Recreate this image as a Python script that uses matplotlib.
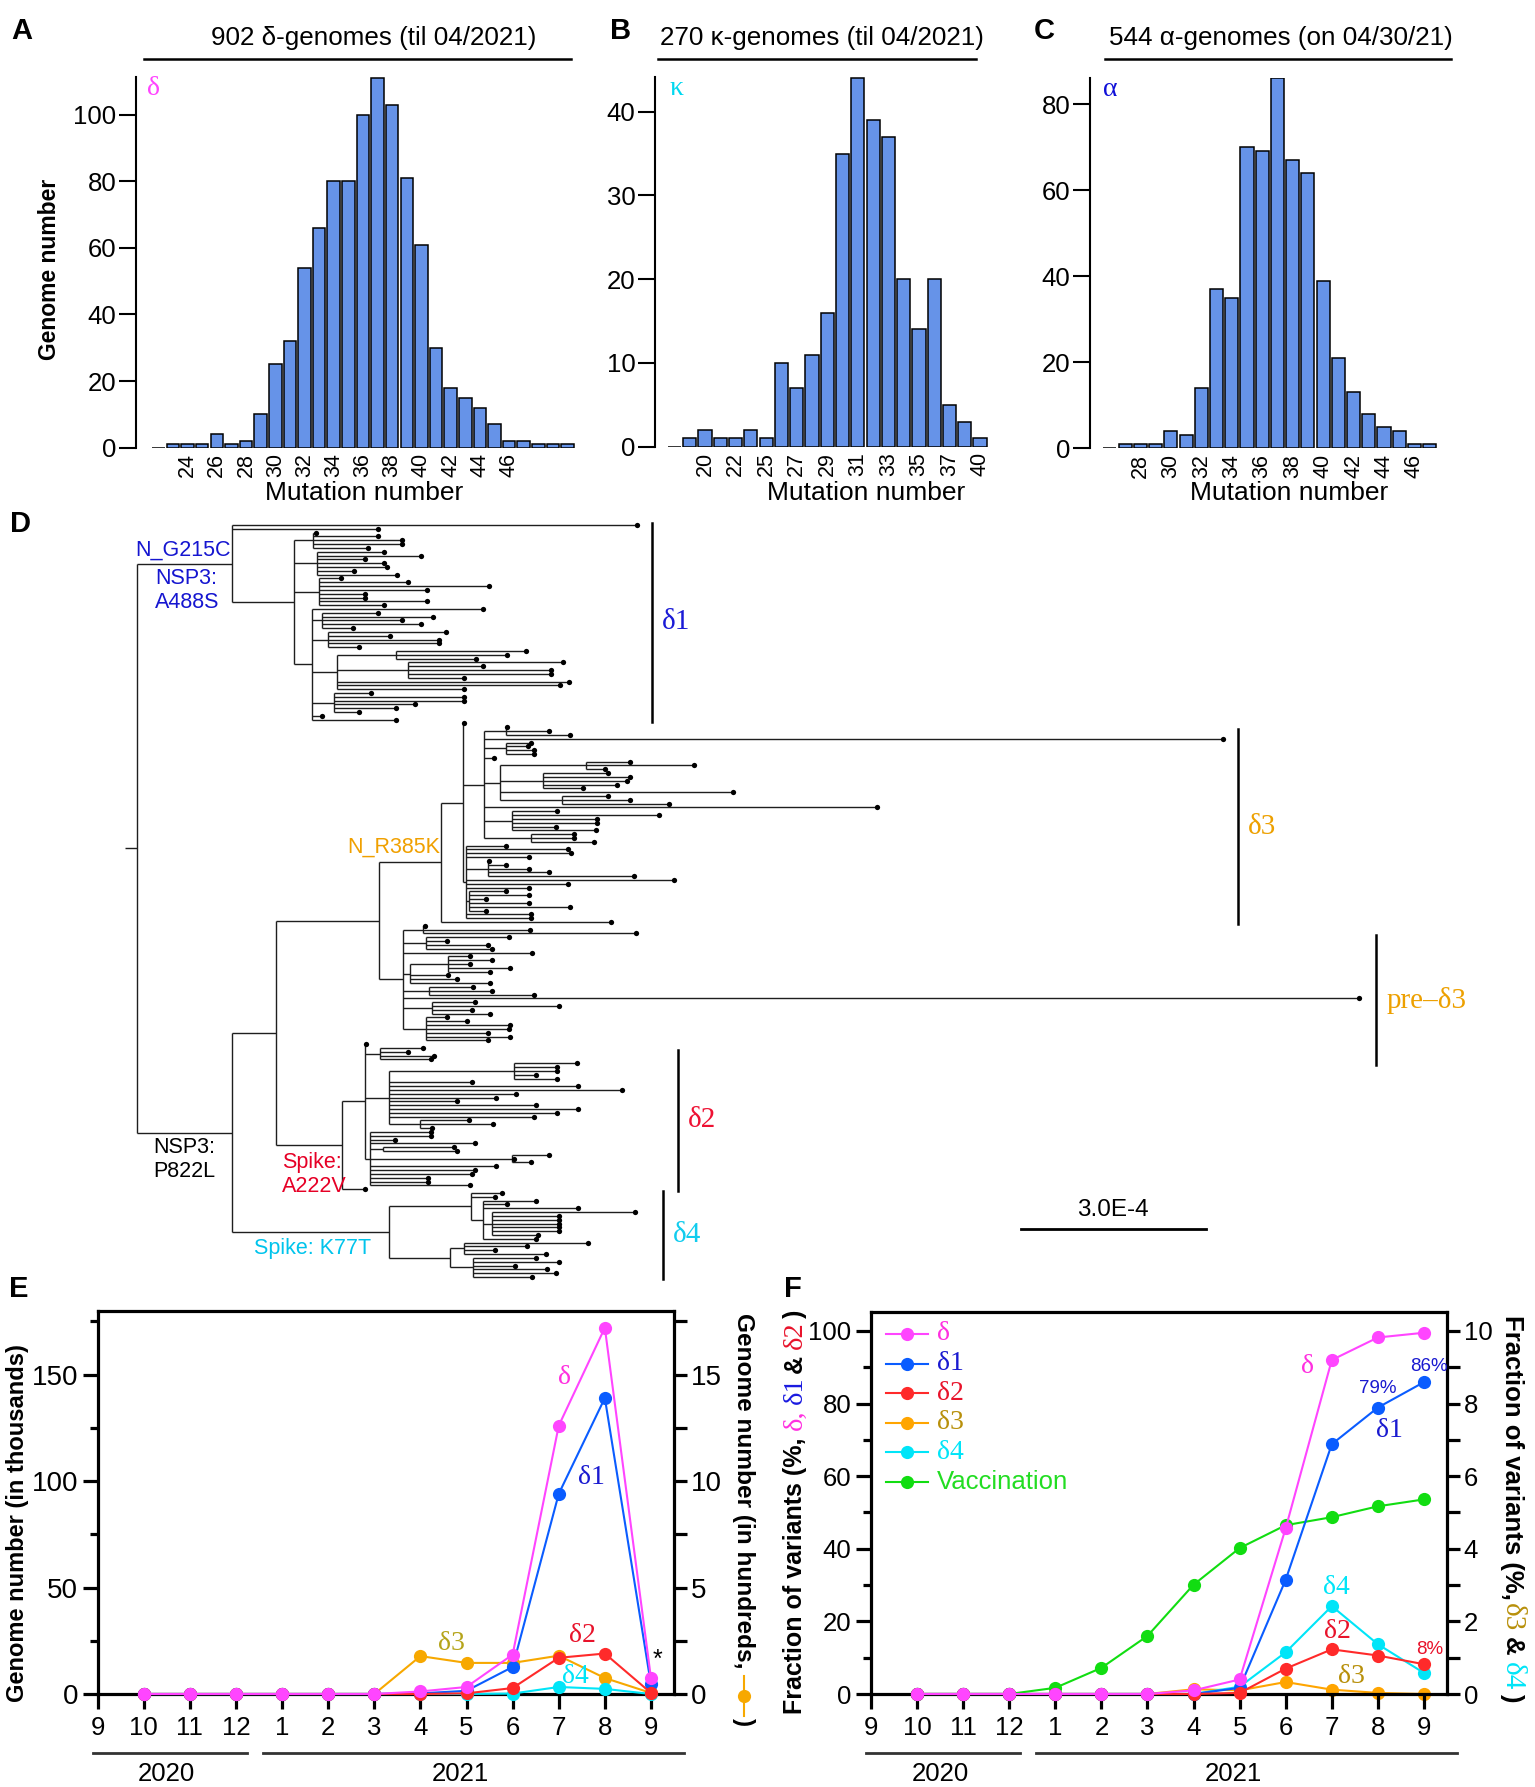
import numpy as np
import matplotlib
matplotlib.use("Agg")
import matplotlib.pyplot as plt
import matplotlib.transforms as mtransforms
from matplotlib.collections import LineCollection
from matplotlib.lines import Line2D

plt.rcParams["font.family"] = ["Liberation Sans", "DejaVu Sans"]
SERIF = ["Liberation Serif", "DejaVu Serif"]
SANS = ["Liberation Sans", "DejaVu Sans"]

# ---------------- data ----------------
# A-C: mutation number histograms
A_MUT = list(range(22, 51))
A_COUNT = [0, 1, 1, 1, 4, 1, 2, 10, 25, 32, 54, 66, 80, 80, 100, 111, 103, 81, 61,
           30, 18, 15, 12, 7, 2, 2, 1, 1, 1]
A_LABELED = list(range(24, 47, 2))

B_MUT = [18, 19, 20, 21, 22, 24, 25, 26, 27, 28, 29, 30, 31, 32, 33, 34, 35, 36, 37, 38, 40]
B_COUNT = [0, 1, 2, 1, 1, 2, 1, 10, 7, 11, 16, 35, 44, 39, 37, 20, 14, 20, 5, 3, 1]
B_LABELED = [20, 22, 25, 27, 29, 31, 33, 35, 37, 40]

C_MUT = list(range(26, 48))
C_COUNT = [0, 1, 1, 1, 4, 3, 14, 37, 35, 70, 69, 86, 67, 64, 39, 21, 13, 8, 5, 4, 1, 1]
C_LABELED = list(range(28, 47, 2))

# D: phylogeny (branch lengths in 1e-4 substitutions/site)
D1_CLADE = ("(:6.55,:2.35,((:0.05,:1.05,:1.45,:1.45,:0.9):0.3,(:1.08,:1.68,:0.78,:1.08,:1.13,:0.6,:1.3):0.37,"
            "(:0.35,:1.45,:2.75,:1.75,:0.75,:0.75,:1.75,:1.05):0.4,"
            "(:2.76,(:0.9,:1.8,:1.3,:1.6,:0.5):0.16,(:1.9,:1.0,:1.8,:1.8,:0.5):0.26,"
            "((:2.1,:1.8,:1.3):0.95,(:2.5,:1.2,:2.3,:2.3,:0.9):1.15,:3.75,:3.6,:2.05):0.41,"
            "(:0.6,:2.1,:2.1,:1.3,:1.0,:0.4):0.36,:0.16,:1.36):0.29):1.0)G215C:1.55")
D3_CLADE = ("((:0.02,((:0.02,:0.7,:1.04):0.35,:11.95,(:0.4,:0.35,:0.45,:0.45):0.35,:0.15,"
            "((:0.7,:1.75,:0.3):1.4,(:1.05,:1.4,:1.35,:1.2,:0.65):0.7,:3.77,(:0.75,:1.1,:1.73):1.0):0.25,"
            ":6.35,(:0.72,:2.37,:1.37,:1.37,:0.7,:1.35):0.45,(:0.7,:0.7,:1.02):0.75):0.35,"
            "(:0.65,:1.65,:1.7,:1.02,(:0.02,:0.3,:0.67,:1.0,:2.37):0.35,:3.37,:1.65,:1.02,"
            "(:0.6,:0.97,:0.28,:0.97,:1.64,:0.28):0.05,:1.05,:1.05):0.05):0.35,:2.75)R385K:1.0")
PRE_CLADE = ("((:0.02,:1.73,:3.44):0.33,(:1.34,:0.35,:1.0,:1.07):0.37,:2.09,"
             "((:0.36,:0.71,:0.36,:1.01,:0.68):0.61,:0.61,:0.75,:1.29):0.12,(:0.72,:1.02,:1.7):0.42,"
             ":15.47,(:0.7,:2.05,:0.65,:0.94):0.47,(:0.35,:0.66,:1.37,:1.34,:1.01,:1.37,:1.0):0.37)PRE:0.38")
D2_CLADE = ("((:0.02,(:0.69,:0.46,:0.88,:0.83):0.25,((:1.03,:0.7,:0.7,:0.37,:0.7):2.02,:1.35,:3.07,:3.78,"
            ":2.06,:1.73,:1.1,:2.39,:3.07,:2.72,:2.35,(:0.8,:1.19,:0.2):0.5):0.39,"
            "(:0.99,:0.99,:0.4,:1.69,(:1.16,:1.2):0.2,(:0.6,:0.02,:0.3):2.3,:2.03,:1.69,:1.65,:0.93,"
            ":0.93,:1.61):0.09):0.36,:0.36)A222V:1.07")
D4_CLADE = ("((:0.5,:0.39,(:0.87,:0.39,:1.54,(:2.32,:1.09,:1.09,:1.09,:1.09,:1.09,:0.75):0.15,"
            ":0.87):0.19):1.33,((:2.0,:1.02,:0.5,:1.32):0.22,(:1.02,:1.39,:0.67,:1.2,:1.33,:0.95):0.37):1.0)K77T:2.54")
TREE = ("(" + D1_CLADE + ",(((" + D3_CLADE + "," + PRE_CLADE + ")Y:1.67," + D2_CLADE + ")X:0.72,"
        + D4_CLADE + ")P822L:1.54)root;")

# E: genome numbers per month (10/2020 .. 9/2021)
MONTH_TICKS = ["9", "10", "11", "12", "1", "2", "3", "4", "5", "6", "7", "8", "9"]
E_DELTA = [0, 0, 0, 0, 0, 0, 1.2, 3.3, 18.5, 126, 172, 7.5]      # thousands
E_D1 = [0, 0, 0, 0, 0, 0, 0.3, 1.5, 12.7, 94, 139, 4.5]
E_D2 = [0, 0, 0, 0, 0, 0, 0, 0.3, 2.8, 17, 19, 0.5]
E_D4 = [0, 0, 0, 0, 0, 0, 0, 0, 0.2, 3.3, 2.4, 0]
E_D3 = [0, 0, 0, 0, 0, 0, 1.78, 1.46, 1.46, 1.8, 0.75, 0.05]     # hundreds

# F: fraction of variants (%) and vaccination
F_DELTA = [0, 0, 0, 0, 0, 0, 1.0, 4.0, 45.7, 92, 98.2, 99.5]
F_D1 = [0, 0, 0, 0, 0, 0, 0, 1.7, 31.5, 68.8, 78.9, 85.9]
F_D2 = [0, 0, 0, 0, 0, 0, 0, 0.3, 7.0, 12.3, 10.6, 8.2]
F_VAC = [0, 0, 0, 1.7, 7.2, 16.0, 30.1, 40.2, 46.5, 48.7, 51.7, 53.6]
F_D3 = [0, 0, 0, 0, 0, 0, 0.13, 0.1, 0.33, 0.12, 0.03, 0.0]       # right axis
F_D4 = [0, 0, 0, 0, 0, 0, 0, 0.2, 1.15, 2.42, 1.37, 0.58]         # right axis

# colours
BAR_BLUE = "#6693e8"
MAGENTA = "#ff45ff"
BLUE = "#0a5cff"
RED = "#ff2a2a"
ORANGE = "#f7a800"
CYAN = "#00e5f8"
GREEN = "#11dd11"
DKBLUE = "#1a1ad0"
TXTRED = "#e8132b"
GOLD = "#b8900b"

W, H = 1535, 1787
fig = plt.figure(figsize=(W / 100, H / 100), dpi=100)


def box(left, top, right, bottom):
    return [left / W, 1 - bottom / H, (right - left) / W, (bottom - top) / H]


def fx(x):
    return x / W


def fy(y):
    return 1 - y / H


# ---------------- A-C histograms ----------------
def histogram(rect, cats, counts, labeled, xlim, ylim, yticks, greek, gcolor, gx):
    ax = fig.add_axes(rect)
    pos = np.arange(len(cats))
    ax.bar(pos, counts, width=0.86, color=BAR_BLUE, edgecolor="black", linewidth=1.1)
    ax.set_xlim(*xlim)
    ax.set_ylim(*ylim)
    for s in ["top", "right", "bottom"]:
        ax.spines[s].set_visible(False)
    ax.spines["left"].set_linewidth(1.5)
    ax.set_yticks(yticks)
    ax.tick_params(axis="y", length=12, width=1.5, labelsize=18.5, pad=2)
    ax.set_xticks([cats.index(c) for c in labeled])
    ax.set_xticklabels([str(c) for c in labeled], rotation=90, fontsize=15.5)
    ax.tick_params(axis="x", length=0, pad=4)
    ax.text(gx, 0.97, greek, transform=ax.transAxes, color=gcolor, fontsize=20,
            family=SERIF, ha="center", va="center")
    return ax


histogram(box(136, 77.3, 575, 447.7), A_MUT, A_COUNT, A_LABELED, (-1.53, 28.51), (0, 111.2),
          [0, 20, 40, 60, 80, 100], "δ", MAGENTA, 0.039)
histogram(box(655, 77.3, 990, 446.7), B_MUT, B_COUNT, B_LABELED, (-1.27, 20.65), (0, 44.1),
          [0, 10, 20, 30, 40], "κ", "#00d8f0", 0.063)
histogram(box(1090, 78.3, 1440, 448.3), C_MUT, C_COUNT, C_LABELED, (-1.31, 21.68), (0, 86),
          [0, 20, 40, 60, 80], "α", "#1010d8", 0.057)

for title, cx, x0, x1 in [("902 δ-genomes (til 04/2021)", 374, 144, 571),
                          ("270 κ-genomes (til 04/2021)", 822, 658, 976),
                          ("544 α-genomes (on 04/30/21)", 1281, 1105, 1451)]:
    fig.text(fx(cx), fy(38), title, ha="center", va="center", fontsize=18.7)
    fig.add_artist(Line2D([fx(x0), fx(x1)], [fy(59.3), fy(59.3)], color="black", lw=1.8))
for cx in [364, 866, 1289]:
    fig.text(fx(cx), fy(493), "Mutation number", ha="center", va="center", fontsize=19)
fig.text(fx(50), fy(269), "Genome number", rotation=90, ha="center", va="center",
         fontsize=16.5, fontweight="bold")

# ---------------- D tree ----------------
def parse_newick(text):
    text = text.replace(" ", "").rstrip(";")
    pos = 0

    def node():
        nonlocal pos
        nd = {"children": [], "name": "", "bl": 0.0}
        if text[pos] == "(":
            pos += 1
            nd["children"].append(node())
            while text[pos] == ",":
                pos += 1
                nd["children"].append(node())
            pos += 1
        start = pos
        while pos < len(text) and text[pos] not in ":,()":
            pos += 1
        nd["name"] = text[start:pos]
        if pos < len(text) and text[pos] == ":":
            pos += 1
            start = pos
            while pos < len(text) and text[pos] not in ",()":
                pos += 1
            nd["bl"] = float(text[start:pos])
        return nd

    return node()


def place(nd, x0, tips, named):
    nd["x"] = x0 + nd["bl"]
    if nd["name"]:
        named[nd["name"]] = nd
    if not nd["children"]:
        nd["y"] = len(tips)
        nd["lo"] = nd["hi"] = nd["y"]
        tips.append(nd)
    else:
        for c in nd["children"]:
            place(c, nd["x"], tips, named)
        nd["y"] = 0.5 * (nd["children"][0]["y"] + nd["children"][-1]["y"])
        nd["lo"] = nd["children"][0]["lo"]
        nd["hi"] = nd["children"][-1]["hi"]


def collect(nd, px, segs):
    if px is not None:
        segs.append([(px, nd["y"]), (nd["x"], nd["y"])])
    if nd["children"]:
        segs.append([(nd["x"], nd["children"][0]["y"]), (nd["x"], nd["children"][-1]["y"])])
        for c in nd["children"]:
            collect(c, nd["x"], segs)


root = parse_newick(TREE)
tips, named = [], {}
place(root, 0.0, tips, named)
segs = [[(-0.19, root["y"]), (0.0, root["y"])]]
collect(root, None, segs)
n = len(tips)
step = (1277 - 525) / (n - 1)

axd = fig.add_axes(box(100, 510, 1500, 1290))
axd.set_xlim(-0.594, 22.07)
axd.set_ylim(n - 1 + 13 / step, -15 / step)
axd.axis("off")
axd.add_collection(LineCollection(segs, colors="#1e1e1e", linewidths=1.0))
axd.plot([t["x"] for t in tips], [t["y"] for t in tips], "o", color="black", ms=3.8, mew=0)

# clade bars
for key, bx, lab, col, pad in [("G215C", 8.35, "δ1", "#1a1ad6", (0, 0)),
                               ("R385K", 17.83, "δ3", "#eda000", (2, 0)),
                               ("PRE", 20.07, "pre–δ3", "#eda000", (3, 6)),
                               ("A222V", 8.77, "δ2", "#ee1133", (2, 0)),
                               ("K77T", 8.52, "δ4", "#11ccee", (0, 0))]:
    nd = named[key]
    lo, hi = nd["lo"] - 0.5 + pad[0], nd["hi"] + 0.5 + pad[1]
    axd.plot([bx, bx], [lo, hi], color="black", lw=1.8)
    axd.annotate(lab, (bx, 0.5 * (lo + hi)), xytext=(7, 0), textcoords="offset points",
                 ha="left", va="center", fontsize=21, family=SERIF, color=col)

lbl = dict(fontsize=15.5, textcoords="offset points")
g = named["G215C"]
axd.annotate("N_G215C", (g["x"], g["y"]), xytext=(-1, 2), ha="right", va="bottom", color="#1515d0", **lbl)
axd.annotate("NSP3:\nA488S", (0, g["y"]), xytext=(13.5, -3), ha="left", va="top", color="#1515d0", **lbl)
r = named["R385K"]
axd.annotate("N_R385K", (r["x"], r["y"]), xytext=(-1, 3), ha="right", va="bottom", color="#f0a000", **lbl)
p = named["P822L"]
axd.annotate("NSP3:\nP822L", (0, p["y"]), xytext=(12, -3), ha="left", va="top", color="black", **lbl)
a = named["A222V"]
axd.annotate("Spike:\nA222V", (named["X"]["x"], a["y"]), xytext=(4, -5), ha="left", va="top",
             color="#e60026", **lbl)
k = named["K77T"]
axd.annotate("Spike: K77T", (p["x"], k["y"]), xytext=(16, -4), ha="left", va="top", color="#00c4ec", **lbl)

# scale bar
bt = mtransforms.blended_transform_factory(axd.transData, axd.transAxes)
yb = 1 - (1228.6 - 510) / 780
axd.plot([14.31, 17.31], [yb, yb], transform=bt, color="black", lw=2)
axd.text(15.81, yb + 0.01, "3.0E-4", transform=bt, ha="center", va="bottom", fontsize=17.5)

# ---------------- E and F ----------------
months = np.arange(1, 13)


def line_panel(rect, ylim, ylim_r, lmaj, lmin, rmaj, rmin, lsize):
    ax = fig.add_axes(rect)
    tw = ax.twinx()
    ax.set_zorder(tw.get_zorder() + 1)
    ax.patch.set_visible(False)
    ax.set_xlim(0, 12.5)
    ax.set_ylim(*ylim)
    tw.set_ylim(*ylim_r)
    for s in ax.spines.values():
        s.set_linewidth(2.3)
    for s in tw.spines.values():
        s.set_visible(False)
    ax.set_xticks(range(13))
    ax.set_xticklabels(MONTH_TICKS)
    ax.tick_params(axis="x", length=11, width=2.3, labelsize=18.5, pad=5)
    ax.set_yticks(lmaj)
    ax.set_yticks(lmin, minor=True)
    ax.tick_params(axis="y", which="major", length=11, width=2.3, labelsize=lsize, pad=3)
    ax.tick_params(axis="y", which="minor", length=6, width=2.3)
    tw.set_yticks(rmaj)
    tw.set_yticks(rmin, minor=True)
    tw.tick_params(axis="y", which="both", length=9, width=2.3, labelsize=lsize, pad=3)
    xt = ax.get_xaxis_transform()
    ax.plot([-0.1, 3.24], [-0.155, -0.155], transform=xt, clip_on=False, color="#333333", lw=2)
    ax.plot([3.59, 12.72], [-0.155, -0.155], transform=xt, clip_on=False, color="#333333", lw=2)
    ax.text(1.5, -0.21, "2020", transform=xt, ha="center", va="center", fontsize=18.5)
    ax.text(7.86, -0.21, "2021", transform=xt, ha="center", va="center", fontsize=18.5)
    return ax, tw


st = dict(marker="o", ms=9.5, lw=1.5, mew=0, clip_on=False)

# E
axe, twe = line_panel(box(97.7, 1310.7, 674, 1694), (0, 180), (0, 18),
                      [0, 50, 100, 150], [25, 75, 125, 175], [0, 5, 10, 15], [2.5, 7.5, 12.5, 17.5], 20)
twe.plot(months, E_D3, color=ORANGE, zorder=3, **st)
axe.plot(months, E_D4, color=CYAN, zorder=3, **st)
axe.plot(months, E_D1, color=BLUE, zorder=4, **st)
axe.plot(months, E_D2, color=RED, zorder=5, **st)
axe.plot(months, E_DELTA, color=MAGENTA, zorder=6, **st)
ann = dict(family=SERIF, fontsize=20, ha="center", va="center")
axe.text(10.12, 148.4, "δ", color="#ff30e0", **ann)
axe.text(10.71, 101.5, "δ1", color=DKBLUE, **ann)
axe.text(7.68, 23.8, "δ3", color="#b5a41a", **ann)
axe.text(10.52, 27.5, "δ2", color=TXTRED, **ann)
axe.text(10.37, 8.0, "δ4", color=CYAN, **ann)
axe.text(12.14, 16.2, "*", color="black", fontsize=18, ha="center", va="center")

# F
axf, twf = line_panel(box(871, 1311.7, 1447, 1694), (0, 105.3), (0, 10.53),
                      [0, 20, 40, 60, 80, 100], [10, 30, 50, 70, 90], [0, 2, 4, 6, 8, 10],
                      [1, 3, 5, 7, 9], 18.5)
twf.plot(months, F_D3, color="#ffa500", zorder=3, **st)
twf.plot(months, F_D4, color=CYAN, zorder=4, **st)
axf.plot(months, F_VAC, color=GREEN, zorder=3, **st)
axf.plot(months, F_D1, color=BLUE, zorder=4, **st)
axf.plot(months, F_D2, color=RED, zorder=5, **st)
axf.plot(months, F_DELTA, color=MAGENTA, zorder=6, **st)
axf.text(9.47, 90.1, "δ", color="#ff30e0", **ann)
axf.text(11.25, 72.6, "δ1", color=DKBLUE, **ann)
axf.text(10.1, 29.3, "δ4", color=CYAN, **ann)
axf.text(10.13, 17.3, "δ2", color=TXTRED, **ann)
axf.text(10.42, 4.9, "δ3", color=GOLD, **ann)
pct = dict(fontsize=13.5, ha="center", va="center")
axf.text(11.0, 84.1, "79%", color=DKBLUE, **pct)
axf.text(12.1, 90.3, "86%", color=DKBLUE, **pct)
axf.text(12.12, 12.3, "8%", color=TXTRED, **pct)

# F legend
LEG = [("δ", MAGENTA, "#ff30e0"), ("δ1", BLUE, DKBLUE), ("δ2", RED, TXTRED),
       ("δ3", "#ffa500", GOLD), ("δ4", CYAN, CYAN), ("Vaccination", GREEN, "#22dd22")]
for i, (name, lc, tc) in enumerate(LEG):
    yy = 0.9417 - i * 0.0774
    axf.plot([0.026, 0.099], [yy, yy], transform=axf.transAxes, color=lc, lw=1.5)
    axf.plot([0.0626], [yy], "o", transform=axf.transAxes, color=lc, ms=9.5, mew=0)
    if name == "Vaccination":
        axf.text(0.115, yy, name, transform=axf.transAxes, color=tc, fontsize=18.5, va="center")
    else:
        axf.text(0.115, yy, name, transform=axf.transAxes, color=tc, fontsize=20, va="center",
                 family=SERIF)

# axis titles (rotated, multi-coloured)
renderer = fig.canvas.get_renderer()


def stacked_label(cx, start, pieces, rot, main_size=17):
    em = main_size * 100 / 72
    bx = cx + 0.36 * em if rot == 90 else cx - 0.36 * em
    y = start
    for text, color, family, weight, size, gap in pieces:
        t = fig.text(fx(bx), fy(y), text, rotation=rot, rotation_mode="anchor", ha="left",
                     va="baseline", color=color, family=family, fontweight=weight, fontsize=size)
        bb = t.get_window_extent(renderer)
        y = (H - bb.y1 - gap) if rot == 90 else (H - bb.y0 + gap)
    return y


fig.text(fx(17.5), fy(1523), "Genome number (in thousands)", rotation=90, ha="center", va="center",
         fontsize=17, fontweight="bold")
yend = stacked_label(746, 1313, [("Genome number (in hundreds,", "black", SANS, "bold", 17.6, 7)],
                     -90, 17.6)
fig.add_artist(Line2D([fx(744)] * 2, [fy(yend), fy(yend + 40)], color=ORANGE, lw=1.5))
fig.add_artist(Line2D([fx(744)], [fy(yend + 20)], marker="o", color=ORANGE, ms=9.5, mew=0))
stacked_label(746, yend + 42, [(")", "black", SANS, "bold", 17.6, 0)], -90, 17.6)

stacked_label(793, 1714, [("Fraction of variants (%,", "black", SANS, "bold", 18, 7),
                          ("δ,", "#ff30e0", SERIF, "normal", 20.5, 6),
                          ("δ1", "#1a1ae0", SERIF, "normal", 20.5, 3),
                          ("&", "black", SANS, "bold", 18, 6),
                          ("δ2", TXTRED, SERIF, "normal", 20.5, 4),
                          (")", "black", SANS, "bold", 18, 0)], 90, 18)
stacked_label(1514, 1315, [("Fraction of variants (%,", "black", SANS, "bold", 18.5, 3),
                           ("δ3", GOLD, SERIF, "normal", 21, 6),
                           ("&", "black", SANS, "bold", 18.5, 6),
                           ("δ4", CYAN, SERIF, "normal", 21, 3),
                           (")", "black", SANS, "bold", 18.5, 0)], -90, 18.5)

# panel letters
for letter, x, y in [("A", 11, 17), ("B", 610, 17), ("C", 1034, 17), ("D", 10, 510),
                     ("E", 9, 1275), ("F", 784, 1275)]:
    fig.text(fx(x), fy(y), letter, ha="left", va="top", fontsize=21, fontweight="bold")

fig.savefig("out.png", dpi=100)
